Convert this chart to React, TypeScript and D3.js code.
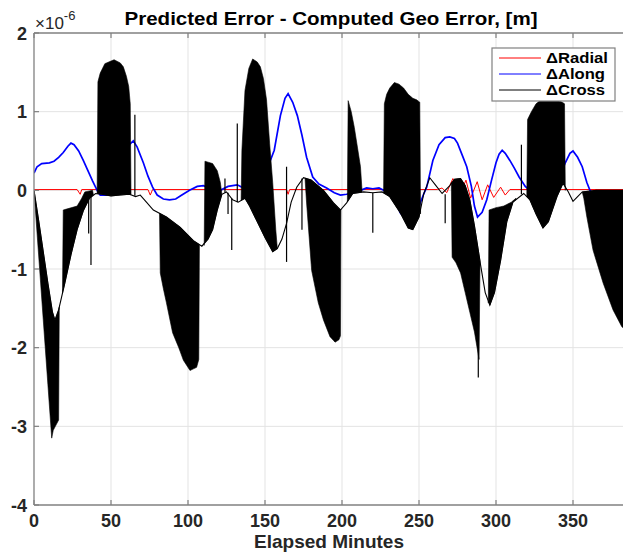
import React from 'react';
import * as d3 from 'd3';

type P = [number, number];

const xTicks = [0, 50, 100, 150, 200, 250, 300, 350];
const yTicks = [-4, -3, -2, -1, 0, 1, 2];
const titleText = 'Predicted Error - Computed Geo Error, [m]';
const xLabel = 'Elapsed Minutes';
const legendNames = ['\u0394Radial', '\u0394Along', '\u0394Cross'];
const legendColors = ['#ff0000', '#0000ff', '#000000'];

// values in units of 1e-6 m
const radial: P[] = [[0,0.01],[28,0.01],[30,-0.05],[31,0.01],[74,0.01],[75.5,-0.06],[77,0.01],[138,0.01],[140,-0.15],[141,0.01],[164,0.01],[165,-0.05],[166,0.01],[262,0.01],[265,0.03],[268,-0.03],[272,0.15],[276,-0.08],[280.5,0.13],[283.5,-0.1],[287.8,0.11],[291,-0.12],[294.6,0.07],[298.5,-0.09],[303,0.04],[306,-0.06],[309,0.01],[390,0.01]];

const along: P[] = [[0,0.22],[2,0.3],[5,0.34],[10,0.35],[13,0.37],[16,0.42],[19,0.48],[22,0.56],[24,0.6],[26,0.58],[29,0.5],[32,0.38],[35,0.25],[38,0.12],[41,0],[43,-0.06],[47,-0.06],[52,-0.03],[56,0.05],[59,0.3],[62,0.58],[64.5,0.63],[67,0.55],[71,0.35],[74,0.18],[77,0.04],[80,-0.06],[84,-0.11],[88,-0.12],[92,-0.11],[96,-0.06],[101,0],[106,0.05],[110,0.06],[114,0.03],[118,0],[121,0],[126,0.05],[132,0.07],[136,0.03],[140,-0.03],[145,0.05],[150,0.2],[156,0.51],[160,0.95],[163,1.17],[165,1.23],[168,1.12],[171,0.95],[174,0.7],[177,0.42],[181,0.17],[185,0.08],[190,0.03],[195,-0.03],[199,-0.06],[203,-0.05],[207,-0.03],[212,0],[216,0.03],[220,0.02],[224,0.03],[227,0],[231,-0.05],[235,-0.15],[238,-0.29],[242,-0.36],[246,-0.34],[250,-0.2],[253,-0.05],[255,0.04],[259,0.38],[263,0.58],[267,0.67],[270,0.68],[273,0.66],[275,0.6],[278,0.45],[281,0.3],[284,0.05],[286,-0.2],[288,-0.34],[291,-0.28],[294,-0.12],[297,0.12],[300,0.35],[302,0.46],[304,0.51],[306,0.47],[309,0.38],[312,0.28],[315,0.17],[319,0.05],[322,0],[326,-0.05],[330,-0.1],[333,-0.12],[336,-0.08],[339,0],[342,0.2],[345,0.35],[348,0.47],[350,0.5],[353,0.42],[356,0.3],[359,0.1],[361,0],[364,-0.07],[367,-0.08],[371,-0.05],[376,-0.02],[390,0]];

// thin (smooth) part of the cross-track error
const crossLine: P[] = [[0,0],[3,-0.38],[6,-0.78],[9,-1.18],[12,-1.55],[13.6,-1.65],[16,-1.52],[20,-1.18],[24,-0.82],[28,-0.5],[32,-0.26],[36,-0.1],[40,-0.04],[44,-0.05],[50,-0.07],[56,-0.06],[62,-0.05],[66,-0.08],[69,-0.06],[73,-0.15],[77.5,-0.25],[86,-0.34],[95,-0.47],[103.5,-0.64],[109,-0.71],[113,-0.62],[116,-0.5],[119,-0.25],[122,-0.05],[125,-0.02],[129,-0.12],[132.6,-0.15],[137,-0.1],[140,-0.2],[145,-0.4],[150,-0.6],[155,-0.78],[158,-0.74],[161,-0.62],[164,-0.42],[167,-0.15],[170.6,0.04],[175,0.16],[180,0.13],[188,0],[194.5,-0.16],[199,-0.25],[203,-0.16],[207,-0.04],[214,-0.02],[220,-0.03],[226,-0.02],[231,-0.08],[238,-0.29],[243,-0.48],[246,-0.5],[250,-0.34],[253,-0.05],[257,0.16],[261,0.06],[265,-0.04],[270,0.06],[273,0.14],[277,0.15],[280,0.06],[283,-0.12],[286,-0.45],[290,-0.95],[293,-1.3],[296,-1.46],[299,-1.3],[303,-0.89],[307,-0.4],[311,-0.15],[318,-0.04],[322,-0.12],[326,-0.3],[330.5,-0.48],[334,-0.4],[339.6,-0.08],[343.5,0.09],[347,-0.02],[350,-0.14],[353,-0.08],[356,-0.02],[365,0],[390,0]];

// outer envelopes of the densely oscillating (filled) parts
const lobeA: P[] = [[0,0],[11.5,-3.15],[12.5,-3.05],[16,-2.92],[16.4,-1.5]];
const lobeB: P[] = [[18.5,-1.3],[19,-0.25],[28,-0.2],[31,-0.1],[33,-0.02],[38,0],[38.5,-0.05]];
const lobeC: P[] = [[41,-0.04],[41.5,1.38],[43,1.49],[46,1.61],[52,1.66],[56,1.62],[58,1.57],[60,1.45],[61.5,1.32],[62.5,1.1],[63,-0.05]];
const lobeD: P[] = [[81.5,-0.29],[82,-1.05],[84,-1.25],[86,-1.43],[90,-1.81],[94,-2.0],[97,-2.16],[101.3,-2.29],[105.6,-2.25],[107,-2.15],[107.4,-0.7]];
const lobeE: P[] = [[110.5,-0.7],[111,0.37],[116,0.34],[119,0.25],[121,0.1],[122,-0.05]];
const lobeG: P[] = [[134.5,-0.12],[135,0.51],[137,1.27],[139.5,1.55],[142,1.67],[145,1.63],[147,1.57],[149,1.42],[151,1.15],[153,0.6],[155,0.1],[157,-0.5],[158,-0.74]];
const lobeH: P[] = [[176,0.15],[177,-0.16],[180.3,-1.02],[184.6,-1.43],[188,-1.65],[192.2,-1.86],[195.5,-1.93],[198,-1.9],[199,-1.85],[199.3,-0.25]];
const lobeI: P[] = [[203.5,-0.12],[204,1.14],[206,1.0],[208,0.8],[210,0.55],[212,0.3],[213,0]];
const lobeJ: P[] = [[227,-0.02],[227.5,1.1],[229,1.22],[231,1.3],[234,1.37],[237,1.35],[240,1.3],[243,1.22],[246,1.17],[248.5,1.15],[250.5,1.12],[251,-0.3]];
const lobeK: P[] = [[271,0.1],[271.5,-0.85],[274,-0.92],[277,-1.05],[280,-1.3],[283,-1.55],[286,-1.8],[289,-2.15],[289.6,-0.95]];
const lobeL: P[] = [[295,-1.43],[295.5,-0.25],[300,-0.22],[305,-0.2],[310,-0.15],[313,-0.1]];
const lobeM: P[] = [[320,-0.08],[320.5,0.9],[323,1.0],[326,1.1],[330,1.16],[335,1.15],[339,1.15],[343,1.12],[344.5,1.1],[345,0]];
const lobeN: P[] = [[356,-0.02],[357,-0.1],[359,-0.34],[363,-0.76],[369.6,-1.18],[376,-1.52],[381.6,-1.73],[390,-1.9]];
const crossLobes = [lobeA, lobeB, lobeC, lobeD, lobeE, lobeG, lobeH, lobeI, lobeJ, lobeK, lobeL, lobeM, lobeN];

// isolated spikes: [t, from, to]
const crossSpikes: [number, number, number][] = [[35.5,-0.1,-0.55],[37,-0.06,-0.95],[65.5,-0.07,0.96],[124,-0.03,0.15],[126,-0.03,-0.3],[128.4,-0.1,-0.76],[132,-0.15,0.85],[164,0.3,-0.91],[174,0.15,-0.5],[220,-0.03,-0.54],[267,-0.05,-0.42],[288.5,-1.0,-2.38],[316.5,-0.05,0.58]];

const W = 623, H = 553;
const left = 34, top = 33, bottom = 505;

function interpAt(pts: P[], t: number): number {
  const i = d3.bisector((d: P) => d[0]).left(pts, t);
  if (i <= 0) return pts[0][1];
  if (i >= pts.length) return pts[pts.length - 1][1];
  const [t0, v0] = pts[i - 1];
  const [t1, v1] = pts[i];
  if (t1 === t0) return v1;
  return v0 + ((v1 - v0) * (t - t0)) / (t1 - t0);
}

export default function App() {
  const x = d3.scaleLinear().domain([0, 390]).range([left, left + 390 * 1.54]);
  const y = d3.scaleLinear().domain([-4, 2]).range([bottom, top]);
  const line = d3.line<P>().x(d => x(d[0])).y(d => y(d[1]));
  const area = d3.area<{ t: number; a: number; b: number }>()
    .x(d => x(d.t)).y0(d => y(d.a)).y1(d => y(d.b));

  const lobePaths = crossLobes.map(outer => {
    const t0 = outer[0][0], t1 = outer[outer.length - 1][0];
    const ts = Array.from(new Set([...outer.map(d => d[0]), ...crossLine.map(d => d[0]).filter(t => t > t0 && t < t1)])).sort((a, b) => a - b);
    return area(ts.map(t => ({ t, a: interpAt(crossLine, t), b: interpAt(outer, t) }))) || '';
  });

  const font = '"Liberation Sans", Arial, Helvetica, sans-serif';
  const axisColor = '#808080';
  const rightEdge = W + 10;

  return (
    <div style={{ position: 'absolute', left: 0, top: 0 }}>
      <svg width={W} height={H} style={{ display: 'block', background: '#fff' }} fontFamily={font}>
        <defs>
          <clipPath id="plot">
            <rect x={left} y={top} width={rightEdge - left} height={bottom - top} />
          </clipPath>
        </defs>
        {xTicks.filter(t => t !== 0).map(t => (
          <line key={'gx' + t} x1={x(t)} x2={x(t)} y1={top} y2={bottom} stroke="#e3e3e3" strokeWidth={1} />
        ))}
        {yTicks.filter(t => t !== -4 && t !== 2).map(t => (
          <line key={'gy' + t} x1={left} x2={rightEdge} y1={y(t)} y2={y(t)} stroke="#e3e3e3" strokeWidth={1} />
        ))}
        <g clipPath="url(#plot)">
          <path d={line(radial) || ''} fill="none" stroke="#ff0000" strokeWidth={1} />
          <path d={line(along) || ''} fill="none" stroke="#0000ff" strokeWidth={1.7} />
          {lobePaths.map((d, i) => (
            <path key={'l' + i} d={d} fill="#000" stroke="#000" strokeWidth={0.6} />
          ))}
          {crossSpikes.map((s, i) => (
            <line key={'s' + i} x1={x(s[0])} x2={x(s[0])} y1={y(s[1])} y2={y(s[2])} stroke="#000" strokeWidth={1.2} />
          ))}
          <path d={line(crossLine) || ''} fill="none" stroke="#000" strokeWidth={1.1} />
        </g>
        <line x1={left} x2={left} y1={top} y2={bottom} stroke={axisColor} strokeWidth={1.3} />
        <line x1={left} x2={rightEdge} y1={bottom} y2={bottom} stroke={axisColor} strokeWidth={1.3} />
        <line x1={left} x2={rightEdge} y1={top} y2={top} stroke={axisColor} strokeWidth={1.3} />
        {xTicks.map(t => (
          <g key={'tx' + t}>
            <line x1={x(t)} x2={x(t)} y1={bottom} y2={bottom - 5} stroke={axisColor} strokeWidth={1.2} />
            <line x1={x(t)} x2={x(t)} y1={top} y2={top + 5} stroke={axisColor} strokeWidth={1.2} />
            <text x={x(t)} y={527} textAnchor="middle" fontSize={18} fontWeight="bold" fill="#262626">{t}</text>
          </g>
        ))}
        {yTicks.map(t => (
          <g key={'ty' + t}>
            <line x1={left} x2={left + 5} y1={y(t)} y2={y(t)} stroke={axisColor} strokeWidth={1.2} />
            <text x={27} y={y(t) + 6.5} textAnchor="end" fontSize={18} fontWeight="bold" fill="#262626">{t}</text>
          </g>
        ))}
        <text x={35} y={29} fontSize={17} fill="#262626">{'\u00d710'}<tspan dy={-9} fontSize={13}>-6</tspan></text>
        <text x={331} y={25} textAnchor="middle" fontSize={19} fontWeight="bold" fill="#000" textLength={413} lengthAdjust="spacingAndGlyphs">{titleText}</text>
        <text x={329} y={548} textAnchor="middle" fontSize={19} fontWeight="bold" fill="#262626">{xLabel}</text>
        <rect x={492} y={48} width={123} height={53} fill="#fff" stroke="#808080" strokeWidth={1.2} />
        {legendNames.map((n, i) => {
          const ly = 58 + i * 16;
          return (
            <g key={n}>
              <line x1={499} x2={541} y1={ly} y2={ly} stroke={legendColors[i]} strokeWidth={1} />
              <text x={546} y={ly + 5} fontSize={14} fontWeight="bold" fill="#000" textLength={i === 0 ? 62 : 59} lengthAdjust="spacingAndGlyphs">{n}</text>
            </g>
          );
        })}
      </svg>
    </div>
  );
}
